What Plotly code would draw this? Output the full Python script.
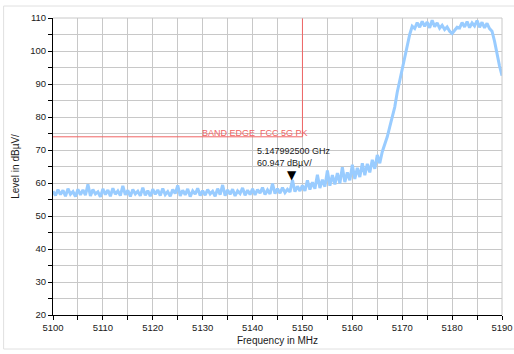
import numpy as np
import plotly.graph_objects as go

# ---- data ----
freq_start, freq_step = 5100.0, 0.5
level = [
    57.5, 56.2, 58.0, 56.5, 57.8, 56.0, 58.3, 56.6, 57.4, 55.9, 58.1, 56.4, 57.9, 56.3, 59.6, 56.1, 58.0, 56.7, 57.3, 55.8, 58.2,
    56.5, 57.9, 56.0, 58.4, 56.6, 57.6, 56.2, 59.1, 56.4, 57.8, 55.9, 58.0, 56.7, 57.5, 56.1, 58.6, 56.3, 57.7, 56.0, 58.1,
    56.6, 57.9, 56.2, 58.3, 56.5, 57.4, 56.0, 58.0, 56.8, 59.3, 56.1, 57.8, 56.4, 58.2, 55.9, 57.6, 56.6, 58.4, 56.2, 57.7,
    56.3, 58.0, 56.7, 57.5, 56.0, 58.3, 56.5, 59.4, 56.2, 57.9, 56.6, 58.1, 56.1, 57.6, 56.8, 58.5, 56.3, 57.8, 56.5, 58.2,
    56.4, 58.0, 56.9, 58.6, 56.5, 57.9, 56.7, 59.8, 56.8, 58.3,
    56.9, 58.6, 57.1, 58.1, 57.3, 60.9, 57.4, 59.0, 57.6, 59.3,
    57.6, 60.8, 58.0, 60.2, 58.3, 62.5, 58.5, 61.0, 58.9, 63.8,
    59.2, 62.4, 59.6, 63.0, 59.9, 64.8, 60.3, 63.2, 60.8, 65.5,
    61.2, 64.6, 61.8, 66.0, 62.4, 65.8,
    63.2, 67.0, 64.3, 68.5, 66.0, 69.5,
    71.5, 74.0, 77.0, 80.0,
    83.0, 87.5, 91.0, 95.0, 98.5, 102.0,
    105.0, 107.5, 106.8, 108.6,
    107.2, 109.0, 107.5, 108.8, 107.0, 109.3,
    107.4, 108.5, 106.9, 107.8, 106.5, 107.3,
    106.0, 105.3, 106.4, 107.2,
    107.0, 108.6, 107.3, 108.9, 107.1, 108.5,
    107.6, 109.2, 107.2, 108.7, 107.0, 108.4,
    106.8, 106.0, 103.0, 99.0, 95.5, 92.5,
]
freq = [freq_start + i * freq_step for i in range(len(level))]

limit_start, limit_end, limit_level = 5100, 5150, 74
limit_label = "BAND EDGE  FCC 5G PK"
marker_freq, marker_level = 5147.9925, 60.947
marker_label = "5.147992500 GHz<br>60.947 dBµV/"

x_ticks = list(range(5100, 5191, 5))
y_ticks = list(range(20, 111, 5))
x_range = [5100, 5190]
y_range = [20, 110]

FONT = "Liberation Sans, Arial, sans-serif"
GRID = "#c8c8c8"
RED = "#f06464"
TXT = "#1a1a1a"

fig = go.Figure()
fig.add_trace(go.Scatter(x=freq, y=level, mode="lines",
                         line=dict(color="#99ccff", width=3),
                         hoverinfo="skip", showlegend=False))

# limit line
fig.add_trace(go.Scatter(x=[limit_start, limit_end, limit_end],
                         y=[limit_level, limit_level, y_range[1]],
                         mode="lines", line=dict(color=RED, width=1),
                         showlegend=False, hoverinfo="skip"))

fig.add_annotation(x=limit_end, y=limit_level, text=limit_label, showarrow=False,
                   xanchor="right", yanchor="bottom", xshift=8, yshift=-3,
                   font=dict(family=FONT, size=9, color=RED))

# marker
fig.add_annotation(x=marker_freq, y=marker_level, text="▼", showarrow=False,
                   xanchor="center", yanchor="bottom", yshift=-4,
                   font=dict(family="DejaVu Sans", size=12, color="black"))
fig.add_annotation(x=marker_freq, y=marker_level, text=marker_label, showarrow=False,
                   xanchor="left", yanchor="bottom", align="left", xshift=-37, yshift=10,
                   font=dict(family=FONT, size=9, color=TXT))

# outer frame and top/right borders
fig.add_shape(type="rect", xref="paper", yref="paper", x0=-0.110, x1=1.04, y0=-0.1145, y1=1.0404,
              line=dict(color="#e0e0e0", width=1), layer="below")
fig.add_shape(type="line", xref="paper", yref="paper", x0=0, x1=1, y0=1, y1=1,
              line=dict(color=GRID, width=1))
fig.add_shape(type="line", xref="paper", yref="paper", x0=1, x1=1, y0=0, y1=1,
              line=dict(color=GRID, width=1))

fig.update_layout(
    width=514, height=354,
    margin=dict(l=53, r=12, t=18, b=39),
    paper_bgcolor="white", plot_bgcolor="white",
    font=dict(family=FONT, size=9, color=TXT),
)
fig.update_xaxes(range=x_range, tickmode="array", tickvals=x_ticks,
                 ticktext=[str(v) if v % 10 == 0 else "" for v in x_ticks],
                 ticks="outside", ticklen=4, tickcolor="black",
                 showline=True, linecolor="black", linewidth=1,
                 showgrid=True, gridcolor=GRID, gridwidth=1, zeroline=False,
                 tickfont=dict(size=9.5, color=TXT), automargin=False,
                 title=dict(text="Frequency in MHz", font=dict(size=10, color=TXT), standoff=4))
fig.update_yaxes(range=y_range, tickmode="array", tickvals=y_ticks,
                 ticktext=[str(v) if v % 10 == 0 else "" for v in y_ticks],
                 ticks="outside", ticklen=4, tickcolor="black",
                 showline=True, linecolor="black", linewidth=1,
                 showgrid=True, gridcolor=GRID, gridwidth=1, zeroline=False,
                 tickfont=dict(size=9.5, color=TXT), automargin=False,
                 title=dict(text="Level in dBµV/", font=dict(size=10, color=TXT), standoff=8))

fig.write_html("out.html", config={"displayModeBar": False, "staticPlot": True},
               post_script="document.body.style.margin='0';document.body.style.overflow='hidden';")
